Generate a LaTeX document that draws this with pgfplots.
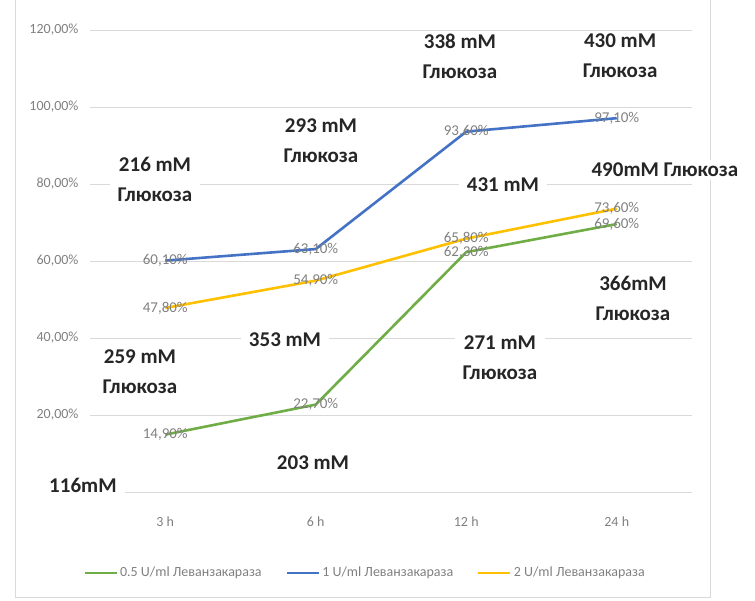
\documentclass[border=0pt]{standalone}
\usepackage{fontspec}
\setmainfont{Carlito}
\usepackage{pgfplots}
\pgfplotsset{compat=1.18}
\definecolor{cgreen}{HTML}{70AD47}
\definecolor{cblue}{HTML}{4472C4}
\definecolor{cyellow}{HTML}{FFC000}
\definecolor{cgrid}{HTML}{D9D9D9}
\definecolor{ctxt}{HTML}{808080}
\definecolor{canno}{HTML}{262626}
\tikzset{anno/.style={font=\fontsize{21}{30}\selectfont\bfseries, text=canno, align=center, fill=white, inner xsep=8pt, inner ysep=3pt}}
\begin{document}
\begin{tikzpicture}[x=1pt,y=1pt]
\useasboundingbox (-90,-109) rectangle (665,492);
\draw[cgrid, line width=0.8pt] (-75,492) -- (-75,-105) -- (620,-105) -- (620,492);
\begin{axis}[
  at={(0,0)}, anchor=south west,
  scale only axis, width=602pt, height=462pt,
  xmin=-0.5, xmax=3.5, ymin=0, ymax=120,
  clip=false,
  axis x line*=bottom, axis y line*=left,
  x axis line style={cgrid, line width=0.8pt, -},
  y axis line style={draw=none},
  major tick length=0pt,
  ymajorgrids, grid style={cgrid, line width=0.8pt},
  xtick={0,1,2,3}, xticklabels={3 h,6 h,12 h,24 h},
  ytick={0,20,40,60,80,100,120},
  yticklabels={{},{20,00\%},{40,00\%},{60,00\%},{80,00\%},{100,00\%},{120,00\%}},
  xticklabel style={font=\fontsize{14}{16}\selectfont, text=ctxt, yshift=-21pt},
  yticklabel style={font=\fontsize{14}{16}\selectfont, text=ctxt, xshift=-8pt},
  nodes near coords={\pgfmathprintnumber[fixed,fixed zerofill,precision=2,use comma,assume math mode=true]{\pgfplotspointmeta}\%},
  nodes near coords style={anchor=center, font=\fontsize{15}{17}\selectfont, text=ctxt},
  point meta=y,
  every axis plot/.append style={line width=2.6pt, mark=none},
  legend columns=3,
  legend style={at={(0.457,-0.175)}, anchor=center, draw=none, fill=none,
    font=\fontsize{14}{16}\selectfont, text=ctxt,
    /tikz/every even column/.append style={column sep=22pt}},
  legend image code/.code={\draw[#1] (0pt,0pt) -- (32pt,0pt);},
]
\addplot[cgreen] coordinates {(0,14.9) (1,22.7) (2,62.3) (3,69.6)};
\addlegendentry{0.5 U/ml Леванзакараза}
\addplot[cblue] coordinates {(0,60.1) (1,63.1) (2,93.6) (3,97.1)};
\addlegendentry{1 U/ml Леванзакараза}
\addplot[cyellow] coordinates {(0,47.8) (1,54.9) (2,65.8) (3,73.6)};
\addlegendentry{2 U/ml Леванзакараза}

\node[anno] at (axis cs:-0.068,81.3) {216 mM\\Глюкоза};
\node[anno] at (axis cs:1.035,91.2) {293 mM\\Глюкоза};
\node[anno] at (axis cs:1.958,113.2) {338 mM\\Глюкоза};
\node[anno] at (axis cs:3.022,113.2) {430 mM\\Глюкоза};
\node[anno] at (axis cs:3.32,83.6) {490mM Глюкоза};
\node[anno] at (axis cs:2.244,79.7) {431 mM};
\node[anno] at (axis cs:3.108,50.4) {366mM\\Глюкоза};
\node[anno] at (axis cs:2.224,34.8) {271 mM\\Глюкоза};
\node[anno] at (axis cs:0.796,39.5) {353 mM};
\node[anno] at (axis cs:-0.168,31.2) {259 mM\\Глюкоза};
\node[anno] at (axis cs:0.982,7.5) {203 mM};
\node[anno] at (axis cs:-0.547,1.8) {116mM};
\end{axis}
\end{tikzpicture}
\end{document}
